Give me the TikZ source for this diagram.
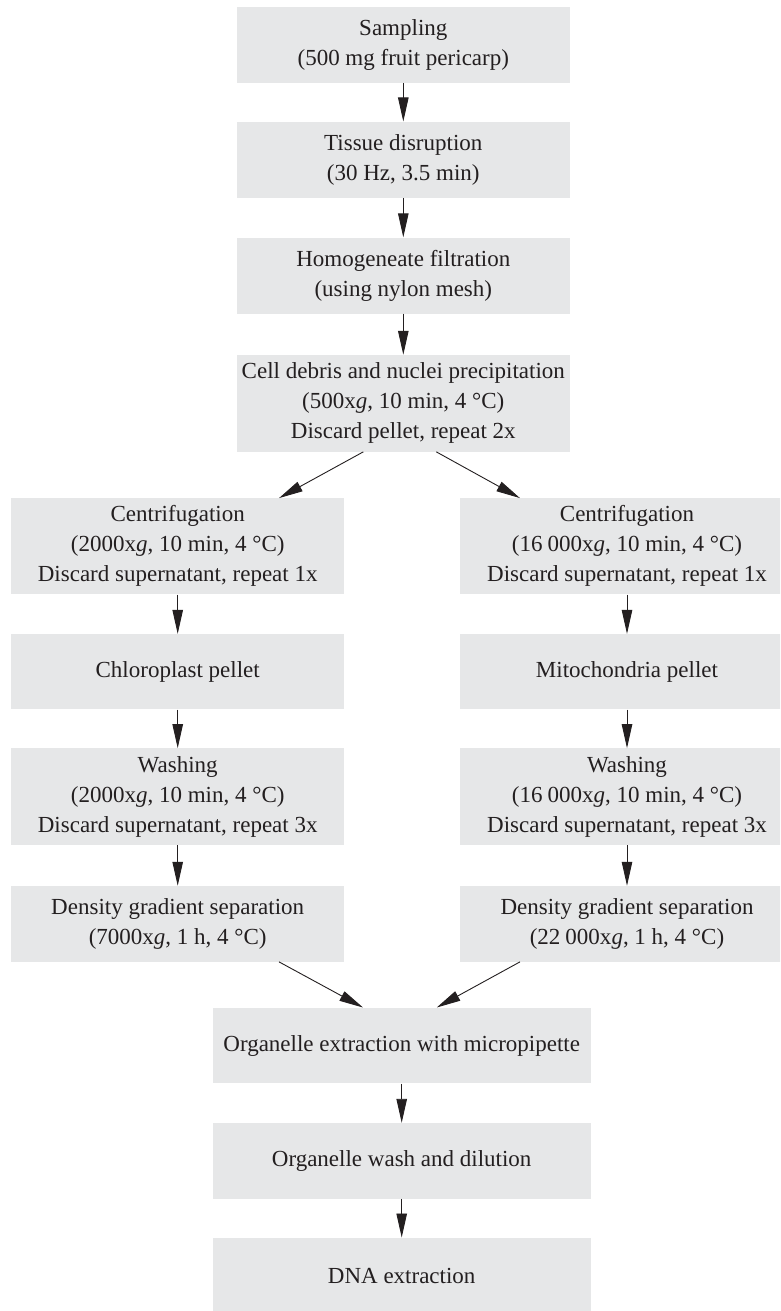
\documentclass[tikz,border=0pt]{standalone}
\usepackage{fontspec}
\setmainfont{Liberation Serif}
\usetikzlibrary{arrows.meta,calc}
\definecolor{boxgray}{HTML}{E6E7E8}
\definecolor{ink}{HTML}{231F20}
\begin{document}
\begin{tikzpicture}[x=1pt,y=-1pt,
  stepbox/.style={fill=boxgray, text=ink, inner sep=0pt, align=center,
    minimum width=333pt, font=\fontsize{23}{30}\selectfont},
  arr/.style={draw=ink, line width=0.9pt, -{Triangle[length=24pt,width=10.5pt]}},
  ]
\useasboundingbox (0,0) rectangle (780,1311);
\clip (0,0) rectangle (780,1311);
% top column
\node[stepbox, minimum height=76pt] (b1) at (403.3,44.7) {Sampling\\(500 mg fruit pericarp)};
\node[stepbox, minimum height=76pt] (b2) at (403.3,159.7) {Tissue disruption\\(30 Hz, 3.5 min)};
\node[stepbox, minimum height=76pt] (b3) at (403.3,275.5) {Homogeneate filtration\\(using nylon mesh)};
\node[stepbox, minimum height=96.7pt] (b4) at (403.3,403.3) {Cell debris and nuclei precipitation\\(500x\textit{g}, 10 min, 4 °C)\\Discard pellet, repeat 2x};
% left column
\node[stepbox, minimum height=96pt] (L1) at (177.7,546.3) {Centrifugation\\(2000x\textit{g}, 10 min, 4 °C)\\Discard supernatant, repeat 1x};
\node[stepbox, minimum height=75.3pt] (L2) at (177.7,671.7) {Chloroplast pellet};
\node[stepbox, minimum height=96.7pt] (L3) at (177.7,796.7) {Washing\\(2000x\textit{g}, 10 min, 4 °C)\\Discard supernatant, repeat 3x};
\node[stepbox, minimum height=75.7pt] (L4) at (177.7,923.8) {Density gradient separation\\(7000x\textit{g}, 1 h, 4 °C)};
% right column
\node[stepbox, minimum height=96pt, minimum width=334pt] (R1) at (627,546.3) {Centrifugation\\(16\hspace{0.22em}000x\textit{g}, 10 min, 4 °C)\\Discard supernatant, repeat 1x};
\node[stepbox, minimum height=75.3pt, minimum width=334pt] (R2) at (627,671.7) {Mitochondria pellet};
\node[stepbox, minimum height=96.7pt, minimum width=334pt] (R3) at (627,796.7) {Washing\\(16\hspace{0.22em}000x\textit{g}, 10 min, 4 °C)\\Discard supernatant, repeat 3x};
\node[stepbox, minimum height=75.7pt, minimum width=334pt] (R4) at (627,923.8) {Density gradient separation\\(22\hspace{0.22em}000x\textit{g}, 1 h, 4 °C)};
% bottom column
\node[stepbox, minimum height=75.6pt, minimum width=378pt] (B1) at (401.7,1045.5) {Organelle extraction with micropipette};
\node[stepbox, minimum height=75.6pt, minimum width=378pt] (B2) at (401.7,1160.8) {Organelle wash and dilution};
\node[stepbox, minimum height=76pt, minimum width=378pt] (B3) at (401.7,1275.7) {DNA extraction};
% connectors
\draw[arr] (b1.south) -- (b2.north);
\draw[arr] (b2.south) -- (b3.north);
\draw[arr] (b3.south) -- (b4.north);
\draw[arr] ($(b4.south)+(-40,0)$) -- ($(L1.north)+(101.3,0)$);
\draw[arr] ($(b4.south)+(33,0)$) -- ($(R1.north)+(-107,0)$);
\draw[arr] (L1.south) -- (L2.north);
\draw[arr] (L2.south) -- (L3.north);
\draw[arr] (L3.south) -- (L4.north);
\draw[arr] (R1.south) -- (R2.north);
\draw[arr] (R2.south) -- (R3.north);
\draw[arr] (R3.south) -- (R4.north);
\draw[arr] ($(L4.south)+(101.3,0)$) -- ($(B1.north)+(-38.7,0)$);
\draw[arr] ($(R4.south)+(-107,0)$) -- ($(B1.north)+(35,0)$);
\draw[arr] (B1.south) -- (B2.north);
\draw[arr] (B2.south) -- (B3.north);
\end{tikzpicture}
\end{document}
